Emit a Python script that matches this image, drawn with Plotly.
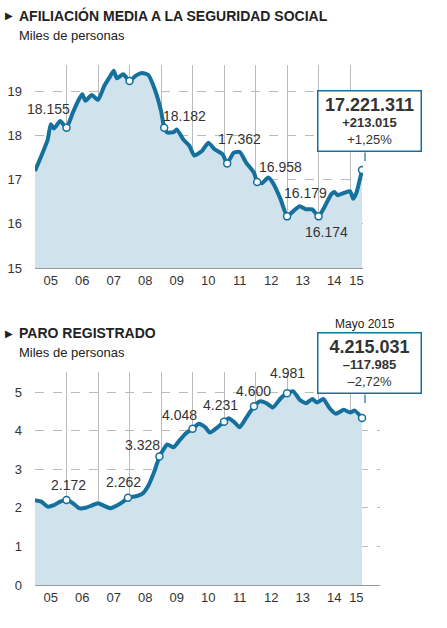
import plotly.graph_objects as go

# afiliacion (millones), x en años decimales
af_x = [2005.0, 2005.2, 2005.4, 2005.5, 2005.6, 2005.8, 2006.0, 2006.2, 2006.4, 2006.5, 2006.6, 2006.8,
        2007.0, 2007.2, 2007.4, 2007.5, 2007.6, 2007.8, 2008.0, 2008.2, 2008.4, 2008.6, 2008.8, 2009.0,
        2009.1, 2009.2, 2009.4, 2009.5, 2009.7, 2009.9, 2010.05, 2010.3, 2010.5, 2010.7, 2010.95, 2011.1,
        2011.3, 2011.5, 2011.7, 2011.95, 2012.05, 2012.2, 2012.4, 2012.55, 2012.8, 2013.0, 2013.2, 2013.4,
        2013.6, 2013.8, 2014.0, 2014.2, 2014.4, 2014.5, 2014.6, 2014.8, 2015.0, 2015.1, 2015.2, 2015.38]
af_y = [17.2, 17.54, 17.9, 18.26, 18.16, 18.33, 18.18, 18.52, 18.83, 18.94, 18.79, 18.92,
        18.81, 19.13, 19.36, 19.47, 19.3, 19.39, 19.24, 19.36, 19.42, 19.37, 19.05, 18.56,
        18.18, 18.07, 18.08, 18.14, 17.92, 17.77, 17.55, 17.65, 17.84, 17.69, 17.58, 17.37,
        17.61, 17.63, 17.39, 17.16, 16.95, 16.92, 17.05, 16.93, 16.55, 16.17, 16.29, 16.4,
        16.33, 16.33, 16.17, 16.4, 16.67, 16.72, 16.65, 16.7, 16.74, 16.57, 16.7, 17.22]
af_mark_x = [2006.0, 2008.0, 2009.1, 2011.1, 2012.05, 2013.0, 2014.0, 2015.38]
af_mark_y = [18.18, 19.24, 18.18, 17.37, 16.95, 16.17, 16.17, 17.22]
af_lab = ["18.155", "19.162", "18.182", "17.362", "16.958", "16.179", "16.174"]
af_lab_x = [2005.42, 2008.05, 2009.75, 2011.5, 2012.8, 2013.6, 2014.25]
af_lab_y = [18.6, 19.66, 18.45, 17.92, 17.3, 16.7, 15.81]

# paro (millones)
pa_x = [2005.0, 2005.2, 2005.4, 2005.6, 2005.8, 2006.0, 2006.2, 2006.4, 2006.6, 2006.8, 2007.0, 2007.2,
        2007.4, 2007.6, 2007.8, 2007.95, 2008.2, 2008.4, 2008.6, 2008.8, 2008.95, 2009.2, 2009.4, 2009.6,
        2009.8, 2010.0, 2010.2, 2010.4, 2010.55, 2010.8, 2011.0, 2011.15, 2011.35, 2011.5, 2011.7, 2011.95,
        2012.15, 2012.35, 2012.55, 2012.8, 2013.0, 2013.2, 2013.4, 2013.6, 2013.8, 2013.95, 2014.15, 2014.35,
        2014.55, 2014.8, 2015.0, 2015.15, 2015.38]
pa_y = [2.2, 2.16, 2.03, 2.07, 2.16, 2.2, 2.12, 1.99, 2.0, 2.06, 2.12, 2.05,
        1.99, 2.06, 2.16, 2.26, 2.3, 2.36, 2.58, 2.97, 3.33, 3.64, 3.57, 3.76,
        3.94, 4.05, 4.18, 4.09, 3.95, 4.09, 4.23, 4.32, 4.2, 4.09, 4.33, 4.63,
        4.76, 4.71, 4.6, 4.84, 4.97, 5.02, 4.8, 4.71, 4.82, 4.73, 4.82, 4.58,
        4.44, 4.54, 4.47, 4.52, 4.33]
pa_mark_x = [2006.0, 2007.95, 2008.95, 2010.0, 2011.0, 2011.95, 2013.0, 2015.38]
pa_mark_y = [2.2, 2.26, 3.33, 4.05, 4.23, 4.63, 4.97, 4.33]
pa_lab = ["2.172", "2.262", "3.328", "4.048", "4.231", "4.600", "4.981"]
pa_lab_x = [2006.05, 2007.8, 2008.4, 2009.6, 2010.9, 2011.95, 2013.0]
pa_lab_y = [2.6, 2.68, 3.63, 4.41, 4.67, 5.02, 5.49]

years = list(range(2005, 2016))
year_labels = ["05", "06", "07", "08", "09", "10", "11", "12", "13", "14", "15"]
label_pos = [y + 0.5 for y in years[:-1]] + [2015.2]

BLUE = "#16709e"
FILL = "#d0e3ec"
FONT = "Liberation Sans, Arial, sans-serif"
W, H = 447, 628

fig = go.Figure()
for xs, ys, mx, my, ax in [(af_x, af_y, af_mark_x, af_mark_y, ""), (pa_x, pa_y, pa_mark_x, pa_mark_y, "2")]:
    fig.add_trace(go.Scatter(x=xs, y=ys, mode="lines", line=dict(color=BLUE, width=4, shape="spline", smoothing=0.5),
                             fill="tozeroy", fillcolor=FILL, xaxis="x" + ax, yaxis="y" + ax, hoverinfo="skip"))
    fig.add_trace(go.Scatter(x=mx, y=my, mode="markers", marker=dict(color="white", size=7, line=dict(color=BLUE, width=1.5)),
                             xaxis="x" + ax, yaxis="y" + ax, hoverinfo="skip"))

xcommon = dict(tickvals=label_pos, ticktext=year_labels, showgrid=False, ticks="", zeroline=False, automargin=False,
               showline=True, linecolor="#999", tickfont=dict(size=13, color="#333"),
               minor=dict(tickvals=years[1:], showgrid=True, gridcolor="#bbb", gridwidth=1))
ycommon = dict(showgrid=True, gridcolor="#bbb", griddash="dash", zeroline=False, ticks="", automargin=False,
               tickfont=dict(size=13, color="#333"), ticklabelstandoff=12)

fig.update_layout(
    width=W, height=H, margin=dict(l=0, r=0, t=0, b=0), showlegend=False,
    plot_bgcolor="white", paper_bgcolor="white", font=dict(family=FONT, color="#333"),
    xaxis=dict(domain=[35 / W, 363 / W], range=[2005, 2015.41], anchor="y", **xcommon),
    yaxis=dict(domain=[1 - 268 / H, 1 - 65 / H], range=[15, 19.6], tickvals=[15, 16, 17, 18, 19], anchor="x", **ycommon),
    xaxis2=dict(domain=[35 / W, 380 / W], range=[2005, 2015.95], anchor="y2", **xcommon),
    yaxis2=dict(domain=[1 - 585 / H, 1 - 372 / H], range=[0, 5.52], tickvals=[0, 1, 2, 3, 4, 5], anchor="x2", **ycommon),
)

ann = []
for labs, lx, ly, ax in [(af_lab, af_lab_x, af_lab_y, ""), (pa_lab, pa_lab_x, pa_lab_y, "2")]:
    for t, x, y in zip(labs, lx, ly):
        ann.append(dict(text=t, x=x, y=y, xref="x" + ax, yref="y" + ax, showarrow=False,
                        font=dict(size=14, color="#333")))


def paper(px, py):
    return px / W, 1 - py / H


for t, py, size in [("<b>AFILIACIÓN MEDIA A LA SEGURIDAD SOCIAL</b>", 15, 14), ("Miles de personas", 36, 13),
                    ("<b>PARO REGISTRADO</b>", 333, 14), ("Miles de personas", 352, 13)]:
    x, y = paper(17, py)
    ann.append(dict(text=t, x=x, y=y, xref="paper", yref="paper", xanchor="left", yanchor="middle",
                    showarrow=False, font=dict(size=size, color="#222")))
for py in (15, 333):
    x, y = paper(3, py)
    ann.append(dict(text="▶", x=x, y=y, xref="paper", yref="paper", xanchor="left", yanchor="middle",
                    showarrow=False, font=dict(size=10, color="#222")))

x, y = paper(365, 324)
ann.append(dict(text="Mayo 2015", x=x, y=y, xref="paper", yref="paper", xanchor="center", yanchor="middle",
                showarrow=False, font=dict(size=12, color="#222")))

boxes = [("17.221.311", "+213.015", "+1,25%", 121),
         ("4.215.031", "–117.985", "–2,72%", 363)]
for big, d1, d2, cy in boxes:
    x, y = paper(369, cy)
    ann.append(dict(text=f"<b><span style='font-size:18px'>{big}</span></b><br><b>{d1}</b><br>{d2}",
                    x=x, y=y, xref="paper", yref="paper", xanchor="center", yanchor="middle",
                    showarrow=False, align="center",
                    bgcolor="white", bordercolor=BLUE, borderwidth=1.5, borderpad=3, width=96,
                    font=dict(size=13, color="#333")))
    # pequeño pico del globo
    px0, py0 = paper(365, cy + 30)
    ann.append(dict(text="", x=px0, y=py0 - 10 / H, xref="paper", yref="paper", ax=0, ay=-10,
                    showarrow=True, arrowhead=0, arrowwidth=1.2, arrowcolor=BLUE))
fig.update_layout(annotations=ann)

fig.write_html("out.html", post_script="document.body.style.margin='0';",
               config={"displayModeBar": False})
